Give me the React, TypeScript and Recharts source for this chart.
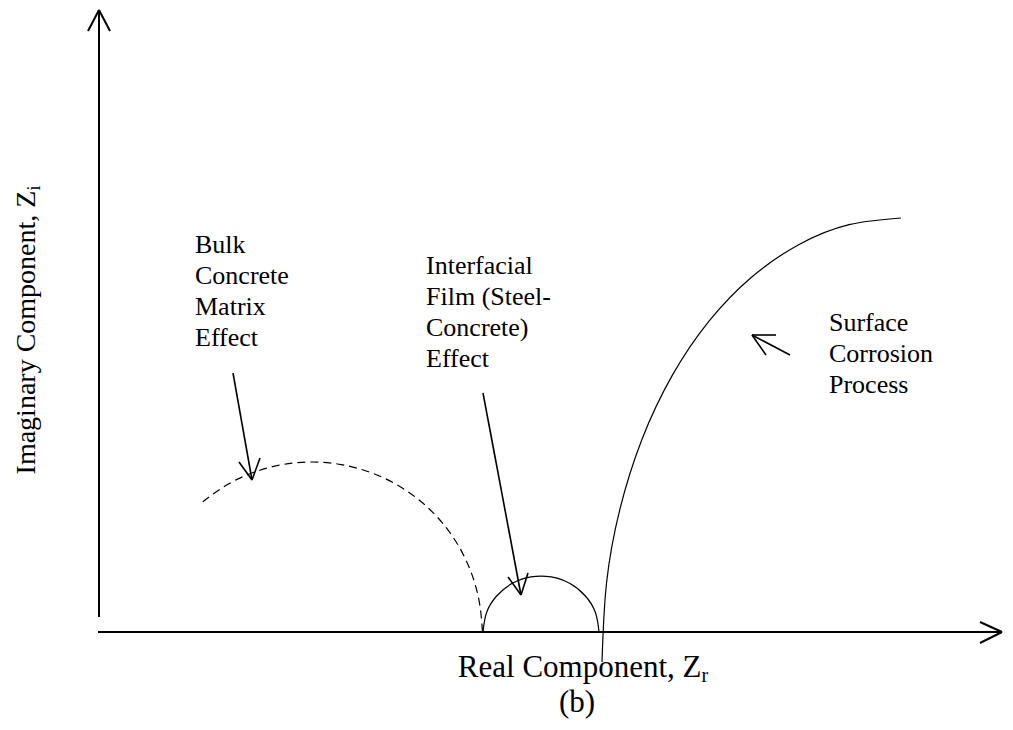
import React from "react";
import {
  ComposedChart,
  Line,
  Scatter,
  XAxis,
  YAxis,
  ReferenceLine,
} from "recharts";

// impedance sketch, arbitrary units (Zr across, Zi up)
const bulkArc = [
  { x: 10.37, y: 13.02 },
  { x: 12.8, y: 14.72 },
  { x: 15.49, y: 15.97 },
  { x: 18.35, y: 16.74 },
  { x: 21.3, y: 17.0 },
  { x: 24.25, y: 16.74 },
  { x: 27.11, y: 15.97 },
  { x: 29.8, y: 14.72 },
  { x: 32.23, y: 13.02 },
  { x: 34.32, y: 10.93 },
  { x: 36.02, y: 8.5 },
  { x: 37.27, y: 5.81 },
  { x: 38.04, y: 2.95 },
  { x: 38.35, y: 0 },
];

const filmArc = [
  { x: 38.4, y: 0 },
  { x: 38.75, y: 1.92 },
  { x: 39.76, y: 3.6 },
  { x: 41.3, y: 4.85 },
  { x: 43.19, y: 5.51 },
  { x: 45.21, y: 5.51 },
  { x: 47.1, y: 4.85 },
  { x: 48.64, y: 3.6 },
  { x: 49.65, y: 1.92 },
  { x: 50.0, y: 0 },
];

const corrosionArc = [
  { x: 50.3, y: -3.0 },
  { x: 50.75, y: 4.88 },
  { x: 52.1, y: 12.32 },
  { x: 54.31, y: 19.3 },
  { x: 57.3, y: 25.61 },
  { x: 60.98, y: 31.06 },
  { x: 65.25, y: 35.48 },
  { x: 69.97, y: 38.73 },
  { x: 75.01, y: 40.73 },
  { x: 80.2, y: 41.4 },
];

const bulkLabel = ["Bulk", "Concrete", "Matrix", "Effect"];
const filmLabel = ["Interfacial", "Film (Steel-", "Concrete)", "Effect"];
const corrosionLabel = ["Surface", "Corrosion", "Process"];

const xTitle = ["Real Component, Z", "r"];
const yTitle = ["Imaginary Component, Z", "i"];
const caption = "(b)";

const axisArrows = [
  { tail: { x: 0, y: 1.5 }, tip: { x: 0, y: 62.2 }, arms: [{ x: -1.1, y: 60.1 }, { x: 1.1, y: 60.1 }] },
  { tail: { x: -0.1, y: 0 }, tip: { x: 90.3, y: 0 }, arms: [{ x: 88.1, y: 1.0 }, { x: 88.1, y: -1.1 }] },
];

const pointerArrows = [
  { tail: { x: 13.4, y: 25.9 }, tip: { x: 15.3, y: 15.2 }, arms: [{ x: 14.0, y: 17.0 }, { x: 16.1, y: 17.4 }] },
  { tail: { x: 38.4, y: 23.9 }, tip: { x: 42.2, y: 3.7 }, arms: [{ x: 40.9, y: 5.5 }, { x: 42.9, y: 5.9 }] },
  { tail: { x: 69.1, y: 27.7 }, tip: { x: 65.3, y: 29.7 }, arms: [{ x: 67.7, y: 29.7 }, { x: 66.7, y: 27.7 }] },
];

const FONT = "'Liberation Serif', 'Times New Roman', serif";

type Arrow = (typeof axisArrows)[number];

const arrowSegments = (a: Arrow, key: string, width: number) => [
  <ReferenceLine key={key + "s"} segment={[a.tail, a.tip]} stroke="#000" strokeWidth={width} ifOverflow="visible" />,
  <ReferenceLine key={key + "a"} segment={[a.tip, a.arms[0]]} stroke="#000" strokeWidth={width} ifOverflow="visible" />,
  <ReferenceLine key={key + "b"} segment={[a.tip, a.arms[1]]} stroke="#000" strokeWidth={width} ifOverflow="visible" />,
];

const blockText = (lines: string[]) => (props: any) => {
  const { cx, cy } = props;
  return (
    <text x={cx} y={cy} fontFamily={FONT} fontSize={26} fill="#000">
      {lines.map((l, i) => (
        <tspan key={i} x={cx} dy={i === 0 ? 0 : 31}>
          {l}
        </tspan>
      ))}
    </text>
  );
};

const XTitle = (props: any) => (
  <text x={props.cx} y={props.cy} fontFamily={FONT} fontSize={31} textAnchor="middle" fill="#000">
    {xTitle[0]}
    <tspan fontSize={20} dy={5}>{xTitle[1]}</tspan>
  </text>
);

const YTitle = (props: any) => (
  <text
    x={props.cx}
    y={props.cy}
    transform={`rotate(-90 ${props.cx} ${props.cy})`}
    fontFamily={FONT}
    fontSize={28}
    textAnchor="middle"
    fill="#000"
  >
    {yTitle[0]}
    <tspan fontSize={18} dy={5}>{yTitle[1]}</tspan>
  </text>
);

const Caption = (props: any) => (
  <text x={props.cx} y={props.cy} fontFamily={FONT} fontSize={31} textAnchor="middle" fill="#000">
    {caption}
  </text>
);

export default function App() {
  return (
    <div style={{ position: "absolute", left: 0, top: 0, background: "#fff" }}>
      <ComposedChart width={1013} height={730} margin={{ top: 0, right: 0, bottom: 0, left: 0 }}>
        <XAxis type="number" dataKey="x" domain={[-9.9, 91.4]} allowDataOverflow hide />
        <YAxis type="number" dataKey="y" domain={[-9.8, 63.2]} allowDataOverflow hide />

        {axisArrows.flatMap((a, i) => arrowSegments(a, "ax" + i, 2))}
        {pointerArrows.flatMap((a, i) => arrowSegments(a, "pt" + i, 1.6))}

        <Line data={bulkArc} dataKey="y" type="natural" stroke="#000" strokeWidth={1.2}
          strokeDasharray="8 5" dot={false} activeDot={false} isAnimationActive={false} />
        <Line data={filmArc} dataKey="y" type="natural" stroke="#000" strokeWidth={1.2}
          dot={false} activeDot={false} isAnimationActive={false} />
        <Line data={corrosionArc} dataKey="y" type="natural" stroke="#000" strokeWidth={1.2}
          dot={false} activeDot={false} isAnimationActive={false} />

        <Scatter data={[{ x: 9.6, y: 37.9 }]} dataKey="y" shape={blockText(bulkLabel)} isAnimationActive={false} />
        <Scatter data={[{ x: 32.7, y: 35.8 }]} dataKey="y" shape={blockText(filmLabel)} isAnimationActive={false} />
        <Scatter data={[{ x: 73.0, y: 30.1 }]} dataKey="y" shape={blockText(corrosionLabel)} isAnimationActive={false} />
        <Scatter data={[{ x: 48.4, y: -4.5 }]} dataKey="y" shape={XTitle} isAnimationActive={false} />
        <Scatter data={[{ x: 47.8, y: -8.0 }]} dataKey="y" shape={Caption} isAnimationActive={false} />
        <Scatter data={[{ x: -6.4, y: 30.2 }]} dataKey="y" shape={YTitle} isAnimationActive={false} />
      </ComposedChart>
    </div>
  );
}
